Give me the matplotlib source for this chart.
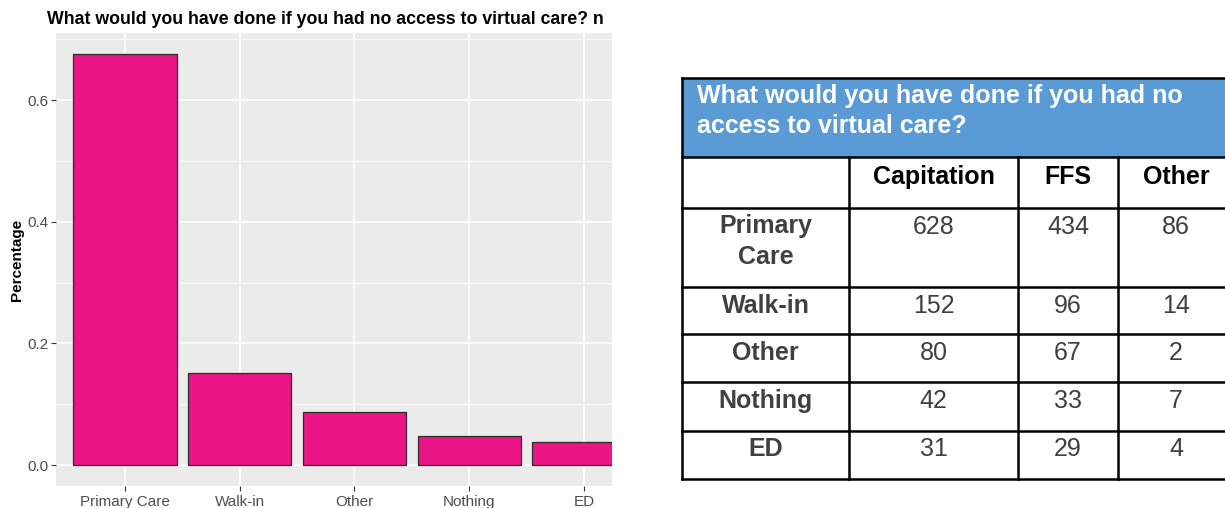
import matplotlib
matplotlib.use('Agg')
import matplotlib.pyplot as plt
from matplotlib.patches import Rectangle

plt.rcParams['font.family'] = ['Liberation Sans', 'DejaVu Sans']

# bar chart data (share of respondents)
answers = ['Primary Care', 'Walk-in', 'Other', 'Nothing', 'ED']
share = [0.676, 0.152, 0.088, 0.048, 0.038]
y_ticks = [0.0, 0.2, 0.4, 0.6]
y_minor = [0.1, 0.3, 0.5, 0.7]

# table data
table_title = ['What would you have done if you had no', 'access to virtual care?']
model_cols = ['Capitation', 'FFS', 'Other']
row_labels = ['Primary\nCare', 'Walk-in', 'Other', 'Nothing', 'ED']
capitation = [628, 152, 80, 42, 31]
ffs = [434, 96, 67, 33, 29]
other_model = [86, 14, 2, 7, 4]

W, H = 1225, 508
fig = plt.figure(figsize=(W / 100, H / 100), dpi=100)


def px_box(left, top, right, bottom):
    return [left / W, 1 - bottom / H, (right - left) / W, (bottom - top) / H]


# ---- ggplot-like bar chart ----
ax = fig.add_axes(px_box(56, 33.3, 611.7, 485.7))
ax.set_facecolor('#EBEBEB')
xs = list(range(len(answers)))
ax.bar(xs, share, width=0.9, color='#EC1588', edgecolor='#2B2B2B', linewidth=0.9, zorder=3)
ax.set_xlim(-0.6, 4.241)
ax.set_ylim(-0.05 * max(share), 1.05 * max(share))
ax.set_xticks(xs)
ax.set_xticklabels(answers)
ax.set_yticks(y_ticks)
ax.set_yticklabels([f'{v:.1f}' for v in y_ticks])
ax.set_yticks(y_minor, minor=True)
ax.grid(which='major', color='white', linewidth=1.1)
ax.grid(which='minor', axis='y', color='white', linewidth=0.55)
ax.set_axisbelow(True)
for s in ax.spines.values():
    s.set_visible(False)
ax.tick_params(length=3.5, width=0.8, color='#333333', labelcolor='#4D4D4D', labelsize=11, pad=2)
ax.tick_params(axis='x', pad=3.5)
ax.tick_params(which='minor', length=0)

# ---- overlay in pixel coords for free text and the table ----
ov = fig.add_axes([0, 0, 1, 1])
ov.set_xlim(0, W)
ov.set_ylim(H, 0)
ov.axis('off')

ov.text(47.3, 24, 'What would you have done if you had no access to virtual care? n',
        fontsize=12.8, fontweight='bold', ha='left', va='baseline', color='black')
ov.text(17.5, 260, 'Percentage', rotation=90, fontsize=11, fontweight='bold',
        ha='center', va='center', color='black')

col_edges = [682, 849, 1018, 1118, 1235]
row_edges = [78, 157, 207.5, 287, 334.3, 382.3, 430.5, 478.5]
lw = 1.8

ov.add_patch(Rectangle((col_edges[0], row_edges[0]), col_edges[-1] - col_edges[0],
                       row_edges[1] - row_edges[0], facecolor='#5B9BD5', edgecolor='none'))
for y in row_edges:
    ov.plot([col_edges[0], col_edges[-1]], [y, y], color='black', lw=lw, solid_capstyle='projecting')
ov.plot([col_edges[0], col_edges[0]], [row_edges[0], row_edges[-1]], color='black', lw=lw,
        solid_capstyle='projecting')
for x in col_edges[1:-1]:
    ov.plot([x, x], [row_edges[1], row_edges[-1]], color='black', lw=lw, solid_capstyle='projecting')

for i, line in enumerate(table_title):
    ov.text(697, 102.7 + 30 * i, line, fontsize=18, fontweight='bold', color='white',
            ha='left', va='baseline')

centers = [(col_edges[i] + col_edges[i + 1]) / 2 for i in range(4)]
centers[3] = 1176
cell_fs = 18
for j, name in enumerate(model_cols):
    ov.text(centers[j + 1], row_edges[1] + 27, name, fontsize=cell_fs, fontweight='bold',
            color='black', ha='center', va='baseline')

for i, lab in enumerate(row_labels):
    top = row_edges[i + 2]
    for k, part in enumerate(lab.split('\n')):
        ov.text(centers[0], top + 26 + 30 * k, part, fontsize=cell_fs, fontweight='bold',
                color='#404040', ha='center', va='baseline')
    for j, vals in enumerate([capitation, ffs, other_model]):
        ov.text(centers[j + 1], top + 26, str(vals[i]), fontsize=cell_fs,
                color='#404040', ha='center', va='baseline')

fig.savefig('out.png', dpi=100)
